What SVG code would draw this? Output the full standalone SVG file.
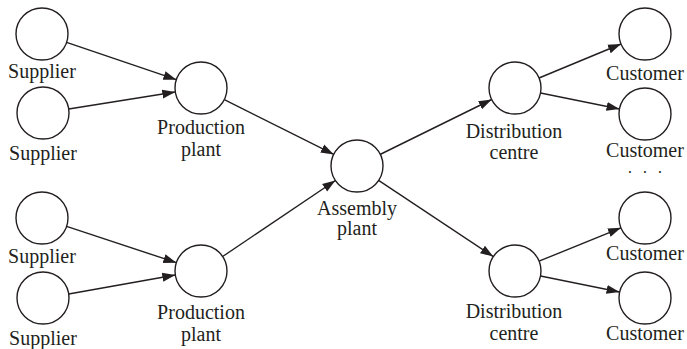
<svg xmlns="http://www.w3.org/2000/svg" width="687" height="349" viewBox="0 0 687 349">
<defs>
<marker id="ah" markerUnits="userSpaceOnUse" markerWidth="14" markerHeight="12" viewBox="0 0 14 12" refX="13" refY="6" orient="auto">
<path d="M0,1.5 L13,6 L0,10.5 Z" fill="#231f20"/>
</marker>
</defs>
<style>
.n{fill:#fff;stroke:#231f20;stroke-width:1.4}
.t{font-family:'Liberation Serif','DejaVu Serif',serif;font-size:20px;fill:#231f20;text-anchor:middle}
.e{stroke:#231f20;stroke-width:1.4;fill:none;marker-end:url(#ah)}
</style>
<rect width="687" height="349" fill="#fff"/>
<g id="connectors">
<line class="e" x1="66.6" y1="42.3" x2="176.4" y2="79.7"/>
<line class="e" x1="68.7" y1="109" x2="175.3" y2="92"/>
<line class="e" x1="66.6" y1="226.3" x2="176.4" y2="262.7"/>
<line class="e" x1="68.7" y1="294" x2="175.3" y2="275"/>
<line class="e" x1="224.3" y1="99.6" x2="333.8" y2="154.4"/>
<line class="e" x1="222.6" y1="256.5" x2="335.4" y2="180.5"/>
<line class="e" x1="380" y1="154.5" x2="491.7" y2="99.5"/>
<line class="e" x1="378.6" y1="180.4" x2="493.3" y2="256.6"/>
<line class="e" x1="539" y1="78" x2="621" y2="44"/>
<line class="e" x1="540.5" y1="93" x2="619.5" y2="109"/>
<line class="e" x1="539" y1="261.2" x2="621" y2="227.8"/>
<line class="e" x1="540.5" y1="276" x2="619.5" y2="292"/>
</g>
<g id="supplier1"><circle class="n" cx="42" cy="34" r="26"/><text class="t" font-family="Liberation Serif, serif" x="42" y="78">Supplier</text></g>
<g id="supplier2"><circle class="n" cx="43" cy="113" r="26"/><text class="t" font-family="Liberation Serif, serif" x="43" y="160">Supplier</text></g>
<g id="supplier3"><circle class="n" cx="42" cy="218" r="26"/><text class="t" font-family="Liberation Serif, serif" x="42" y="263">Supplier</text></g>
<g id="supplier4"><circle class="n" cx="43" cy="298" r="26"/><text class="t" font-family="Liberation Serif, serif" x="43" y="345">Supplier</text></g>
<g id="production1"><circle class="n" cx="201" cy="88" r="26"/><text class="t" font-family="Liberation Serif, serif" x="201" y="134">Production</text><text class="t" font-family="Liberation Serif, serif" x="201" y="156">plant</text></g>
<g id="production2"><circle class="n" cx="201" cy="271" r="26"/><text class="t" font-family="Liberation Serif, serif" x="201" y="319">Production</text><text class="t" font-family="Liberation Serif, serif" x="201" y="341">plant</text></g>
<g id="assembly"><circle class="n" cx="357" cy="166" r="26"/><text class="t" font-family="Liberation Serif, serif" x="357" y="215">Assembly</text><text class="t" font-family="Liberation Serif, serif" x="357" y="235">plant</text></g>
<g id="distribution1"><circle class="n" cx="515" cy="88" r="26"/><text class="t" font-family="Liberation Serif, serif" x="514" y="138">Distribution</text><text class="t" font-family="Liberation Serif, serif" x="514" y="159">centre</text></g>
<g id="distribution2"><circle class="n" cx="515" cy="271" r="26"/><text class="t" font-family="Liberation Serif, serif" x="514" y="318">Distribution</text><text class="t" font-family="Liberation Serif, serif" x="514" y="340">centre</text></g>
<g id="customer1"><circle class="n" cx="645" cy="34" r="26"/><text class="t" font-family="Liberation Serif, serif" x="645" y="80">Customer</text></g>
<g id="customer2"><circle class="n" cx="645" cy="114" r="26"/><text class="t" font-family="Liberation Serif, serif" x="645" y="157">Customer</text></g>
<g id="customer3"><circle class="n" cx="645" cy="218" r="26"/><text class="t" font-family="Liberation Serif, serif" x="645" y="260">Customer</text></g>
<g id="customer4"><circle class="n" cx="645" cy="298" r="26"/><text class="t" font-family="Liberation Serif, serif" x="645" y="340">Customer</text></g>
<text class="t" font-family="Liberation Serif, serif" style="font-size:16px" x="630 645 660" y="178">···</text>
</svg>
